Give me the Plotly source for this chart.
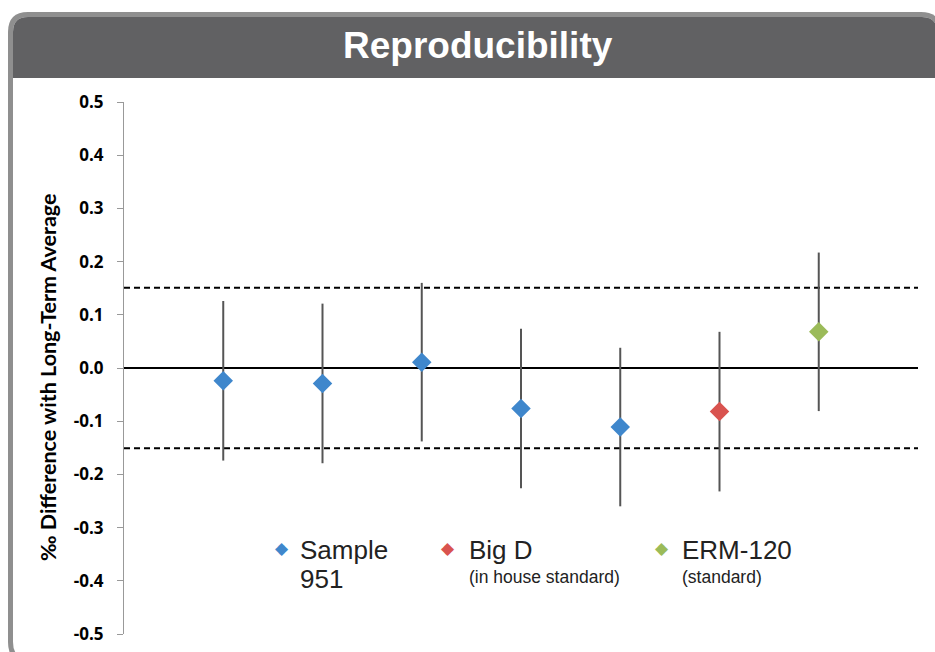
import plotly.graph_objects as go

# ---------------- data ----------------
positions = [1, 2, 3, 4, 5, 6, 7]
groups = ["Sample 951", "Sample 951", "Sample 951", "Sample 951", "Sample 951", "Big D", "ERM-120"]
values = [-0.024, -0.029, 0.011, -0.076, -0.111, -0.082, 0.068]
errors = [0.150, 0.150, 0.149, 0.150, 0.149, 0.150, 0.149]
limit_upper = 0.151
limit_lower = -0.151
y_ticks = [0.5, 0.4, 0.3, 0.2, 0.1, 0.0, -0.1, -0.2, -0.3, -0.4, -0.5]

group_colors = {"Sample 951": "#3f87cc", "Big D": "#d9534f", "ERM-120": "#9bbb59"}

W, H = 935, 652
L, R, T, B = 124, 17, 102, 18
PW, PH = W - L - R, H - T - B


def px(x):
    return (x - L) / PW


def py(y):
    return (H - B - y) / PH


def rpath(x0, y0, x1, y1, r_tl, r_tr, r_br, r_bl):
    pts = []
    pts.append(f"M{px(x0 + r_tl)},{py(y0)}")
    pts.append(f"L{px(x1 - r_tr)},{py(y0)}")
    if r_tr:
        pts.append(f"Q{px(x1)},{py(y0)} {px(x1)},{py(y0 + r_tr)}")
    pts.append(f"L{px(x1)},{py(y1 - r_br)}")
    if r_br:
        pts.append(f"Q{px(x1)},{py(y1)} {px(x1 - r_br)},{py(y1)}")
    pts.append(f"L{px(x0 + r_bl)},{py(y1)}")
    if r_bl:
        pts.append(f"Q{px(x0)},{py(y1)} {px(x0)},{py(y1 - r_bl)}")
    pts.append(f"L{px(x0)},{py(y0 + r_tl)}")
    if r_tl:
        pts.append(f"Q{px(x0)},{py(y0)} {px(x0 + r_tl)},{py(y0)}")
    pts.append("Z")
    return " ".join(pts)


fig = go.Figure()

for g in ["Sample 951", "Big D", "ERM-120"]:
    xs = [p for p, gg in zip(positions, groups) if gg == g]
    ys = [v for v, gg in zip(values, groups) if gg == g]
    es = [e for e, gg in zip(errors, groups) if gg == g]
    fig.add_trace(go.Scatter(
        x=xs, y=ys, mode="markers", name=g, showlegend=False,
        marker=dict(symbol="diamond", size=15, color=group_colors[g]),
        error_y=dict(type="data", array=es, visible=True, width=0,
                     thickness=2, color="#555555"),
    ))

shapes = [
    # outer frame
    dict(type="path", xref="paper", yref="paper", layer="below",
         path=rpath(8, 12, 941, 664, 20, 20, 22, 22),
         fillcolor="#8f8f8f", line=dict(width=0)),
    # inner white
    dict(type="path", xref="paper", yref="paper", layer="below",
         path=rpath(13, 17, 937, 659, 15, 15, 17, 17),
         fillcolor="white", line=dict(width=0)),
    # title bar
    dict(type="path", xref="paper", yref="paper", layer="below",
         path=rpath(13, 17, 937, 78, 15, 15, 0, 0),
         fillcolor="#616163", line=dict(width=0)),
    # limits
    dict(type="line", xref="paper", yref="y", x0=0, x1=1,
         y0=limit_upper, y1=limit_upper, layer="below",
         line=dict(color="black", width=2, dash="6px,4px")),
    dict(type="line", xref="paper", yref="y", x0=0, x1=1,
         y0=limit_lower, y1=limit_lower, layer="below",
         line=dict(color="black", width=2, dash="6px,4px")),
]

annotations = [
    dict(text="<b>Reproducibility</b>", x=px(478), y=py(46), xref="paper", yref="paper",
         showarrow=False, xanchor="center", yanchor="middle",
         font=dict(family="Liberation Sans", size=37, color="white")),
    dict(text="‰ Difference with Long-Term Average", x=px(48), y=py(378),
         xref="paper", yref="paper", showarrow=False, textangle=-90,
         xanchor="center", yanchor="middle",
         font=dict(family="Lato", size=21.5, color="black", weight="bold")),
]

legend_items = [
    ("Sample 951", 282, 298, "Sample", "951", 26, 26),
    ("Big D", 448, 467, "Big D", "(in house standard)", 26, 17.5),
    ("ERM-120", 662, 680, "ERM-120", "(standard)", 26, 17.5),
]
for g, mx, tx, line1, line2, s1, s2 in legend_items:
    annotations.append(dict(text="◆", x=px(mx), y=py(548), xref="paper", yref="paper",
                            showarrow=False, xanchor="center", yanchor="middle",
                            font=dict(family="DejaVu Sans", size=17, color=group_colors[g])))
    annotations.append(dict(text=line1, x=px(tx), y=py(550), xref="paper", yref="paper",
                            showarrow=False, xanchor="left", yanchor="middle",
                            font=dict(family="Liberation Sans", size=s1, color="#222")))
    annotations.append(dict(text=line2, x=px(tx), y=py(579 if s2 > 20 else 577),
                            xref="paper", yref="paper",
                            showarrow=False, xanchor="left", yanchor="middle",
                            font=dict(family="Liberation Sans", size=s2, color="#222")))

fig.update_layout(
    width=W, height=H,
    margin=dict(l=L, r=R, t=T, b=B),
    paper_bgcolor="white", plot_bgcolor="rgba(0,0,0,0)",
    showlegend=False,
    shapes=shapes, annotations=annotations,
    xaxis=dict(range=[0, 8], visible=False, showgrid=False, zeroline=False,
               automargin=False),
    yaxis=dict(range=[-0.5, 0.5], tickvals=y_ticks,
               ticktext=[f"{v:.1f}" for v in y_ticks],
               showgrid=False, zeroline=True, zerolinecolor="black", zerolinewidth=2,
               showline=True, linecolor="#999999", linewidth=1,
               ticks="outside", ticklen=6, tickcolor="#999999",
               ticklabelstandoff=10, automargin=False,
               tickfont=dict(family="Open Sans", size=17, color="black", weight="bold")),
)

fig.write_html(
    "out.html",
    post_script=("document.body.style.margin='0';"
                 "document.body.style.overflow='hidden';"
                 "document.documentElement.style.overflow='hidden';"),
    config={"displayModeBar": False},
)
